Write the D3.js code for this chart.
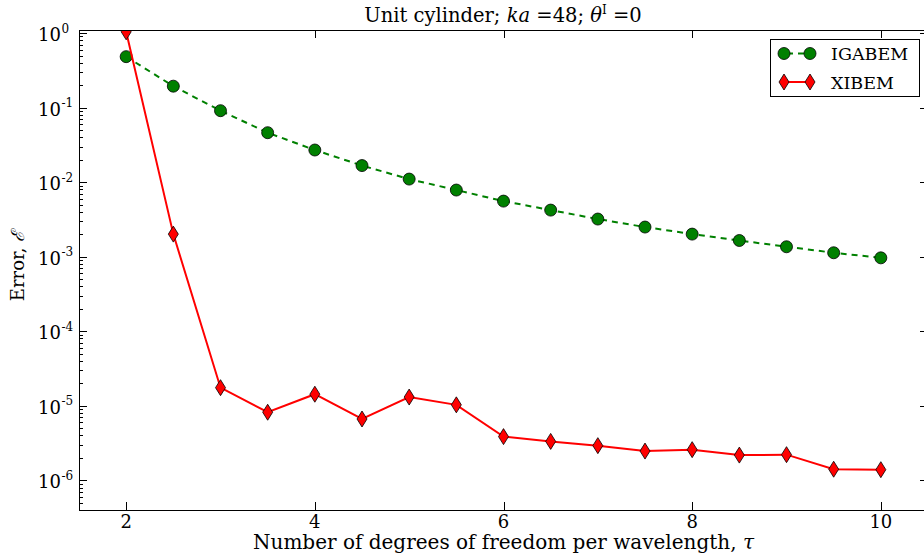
<!DOCTYPE html>
<html>
<head>
<meta charset="utf-8">
<script src="https://cdn.jsdelivr.net/npm/d3@7"></script>
<style>
  html, body { margin: 0; padding: 0; background: #fff; }
  svg { display: block; font-family: "DejaVu Serif", serif; }
</style>
</head>
<body>
<svg id="chart" width="924" height="556"></svg>
<script>
// Degrees of freedom per wavelength
const tau = [2, 2.5, 3, 3.5, 4, 4.5, 5, 5.5, 6, 6.5, 7, 7.5, 8, 8.5, 9, 9.5, 10];
// Relative error for each method
const igabem = [0.483, 0.194, 0.091, 0.0461, 0.0270, 0.0167, 0.0110, 0.00784, 0.00557,
                0.00422, 0.00320, 0.00250, 0.00201, 0.00165, 0.00136, 0.00113, 0.000966];
const xibem = [1.04, 0.00201, 1.75e-5, 8.2e-6, 1.43e-5, 6.65e-6, 1.31e-5, 1.03e-5, 3.86e-6,
               3.33e-6, 2.92e-6, 2.47e-6, 2.58e-6, 2.18e-6, 2.21e-6, 1.41e-6, 1.39e-6];
const xTicks = [2, 4, 6, 8, 10];
const yExponents = [0, -1, -2, -3, -4, -5, -6];

const svg = d3.select("#chart");
const L = 79, R = 928, T = 30, B = 510;

const x = d3.scaleLinear().domain([1.5, 10.5]).range([L, R]);
const y = d3.scaleLog().domain([4e-7, 1.1]).range([B, T]);

// clip region for data
svg.append("defs").append("clipPath").attr("id", "plotclip")
  .append("rect").attr("x", L).attr("y", T).attr("width", R - L).attr("height", B - T);

// minor y ticks (2..9 × 10^k)
const minor = [];
for (let k = -7; k <= 0; k++) {
  for (let m = 2; m <= 9; m++) {
    const v = m * Math.pow(10, k);
    if (v >= 4e-7 && v <= 1.1) minor.push(v);
  }
}

const tickG = svg.append("g").attr("stroke", "#000").attr("stroke-width", 1);
minor.forEach(v => {
  const yy = Math.round(y(v)) + 0.5;
  tickG.append("line").attr("x1", L).attr("x2", L + 4).attr("y1", yy).attr("y2", yy);
  tickG.append("line").attr("x1", R).attr("x2", R - 4).attr("y1", yy).attr("y2", yy);
});
yExponents.forEach(e => {
  const yy = Math.round(y(Math.pow(10, e))) + 0.5;
  tickG.append("line").attr("x1", L).attr("x2", L + 8).attr("y1", yy).attr("y2", yy);
  tickG.append("line").attr("x1", R).attr("x2", R - 8).attr("y1", yy).attr("y2", yy);
});
xTicks.forEach(t => {
  const xx = Math.round(x(t)) + 0.5;
  tickG.append("line").attr("x1", xx).attr("x2", xx).attr("y1", B).attr("y2", B - 8);
  tickG.append("line").attr("x1", xx).attr("x2", xx).attr("y1", T).attr("y2", T + 8);
});

// y tick labels 10^k
yExponents.forEach(e => {
  svg.append("text")
    .attr("x", 61).attr("y", y(Math.pow(10, e)) + 8)
    .attr("text-anchor", "end").attr("font-size", 18).attr("fill", "#000")
    .text("10");
  svg.append("text")
    .attr("x", 61.5).attr("y", y(Math.pow(10, e)) - 0.5)
    .attr("font-size", 12).attr("fill", "#000")
    .text(String(e));
});

// x tick labels
xTicks.forEach(t => {
  svg.append("text").attr("x", x(t)).attr("y", 528)
    .attr("text-anchor", "middle").attr("font-size", 18).attr("fill", "#000")
    .text(t);
});

// data lines
const plot = svg.append("g").attr("clip-path", "url(#plotclip)");
const line = d3.line().x(d => x(d[0])).y(d => y(d[1]));
const gaData = tau.map((t, i) => [t, igabem[i]]);
const xiData = tau.map((t, i) => [t, xibem[i]]);

plot.append("path").datum(gaData).attr("d", line)
  .attr("fill", "none").attr("stroke", "#008000").attr("stroke-width", 2)
  .attr("stroke-dasharray", "6,5");
plot.selectAll("circle.ga").data(gaData).join("circle")
  .attr("class", "ga").attr("cx", d => x(d[0])).attr("cy", d => y(d[1])).attr("r", 6)
  .attr("fill", "#008000").attr("stroke", "#000").attr("stroke-width", 0.8);

plot.append("path").datum(xiData).attr("d", line)
  .attr("fill", "none").attr("stroke", "#ff0000").attr("stroke-width", 2);
const diamond = (cx, cy) => `M${cx},${cy - 8}L${cx + 5},${cy}L${cx},${cy + 8}L${cx - 5},${cy}Z`;
plot.selectAll("path.xi").data(xiData).join("path")
  .attr("class", "xi").attr("d", d => diamond(x(d[0]), y(d[1])))
  .attr("fill", "#ff0000").attr("stroke", "#000").attr("stroke-width", 0.8);

// spines
svg.append("rect").attr("x", L + 0.5).attr("y", T + 0.5).attr("width", R - L).attr("height", B - T)
  .attr("fill", "none").attr("stroke", "#000").attr("stroke-width", 1);

// legend
const lg = svg.append("g");
lg.append("rect").attr("x", 770.5).attr("y", 39.5).attr("width", 149).attr("height", 57)
  .attr("fill", "#fff").attr("stroke", "#000").attr("stroke-width", 1);
const ly1 = 53.5, ly2 = 82;
lg.append("line").attr("x1", 784).attr("x2", 810).attr("y1", ly1).attr("y2", ly1)
  .attr("stroke", "#008000").attr("stroke-width", 2).attr("stroke-dasharray", "6,5")
  .attr("stroke-dashoffset", -3);
[784, 810].forEach(cx => lg.append("circle").attr("cx", cx).attr("cy", ly1).attr("r", 6)
  .attr("fill", "#008000").attr("stroke", "#000").attr("stroke-width", 0.8));
lg.append("line").attr("x1", 784).attr("x2", 810).attr("y1", ly2).attr("y2", ly2)
  .attr("stroke", "#ff0000").attr("stroke-width", 2);
[784, 810].forEach(cx => lg.append("path").attr("d", diamond(cx, ly2))
  .attr("fill", "#ff0000").attr("stroke", "#000").attr("stroke-width", 0.8));
lg.append("text").attr("x", 831).attr("y", ly1 + 6.5).attr("font-size", 17.5).text("IGABEM");
lg.append("text").attr("x", 831).attr("y", ly2 + 6.5).attr("font-size", 17.5).text("XIBEM");

// title
const title = svg.append("text").attr("x", 503).attr("y", 22)
  .attr("text-anchor", "middle").attr("font-size", 19.5).attr("fill", "#000");
title.append("tspan").text("Unit cylinder; ");
title.append("tspan").attr("font-style", "italic").text("ka");
title.append("tspan").text(" =48; ");
title.append("tspan").attr("font-style", "italic").text("θ");
title.append("tspan").attr("font-size", 12).attr("dy", -8).text("I");
title.append("tspan").attr("dy", 8).text(" =0");

// axis labels
svg.append("text").attr("x", x(6)).attr("y", 549)
  .attr("text-anchor", "middle").attr("font-size", 20)
  .text("Number of degrees of freedom per wavelength, ")
  .append("tspan").attr("font-style", "italic").text("τ");

const yl = svg.append("text").attr("transform", "translate(24,266) rotate(-90)")
  .attr("text-anchor", "middle").attr("font-size", 18);
yl.append("tspan").text("Error, ");
yl.append("tspan").attr("font-style", "italic").text("ℰ");
</script>
</body>
</html>
